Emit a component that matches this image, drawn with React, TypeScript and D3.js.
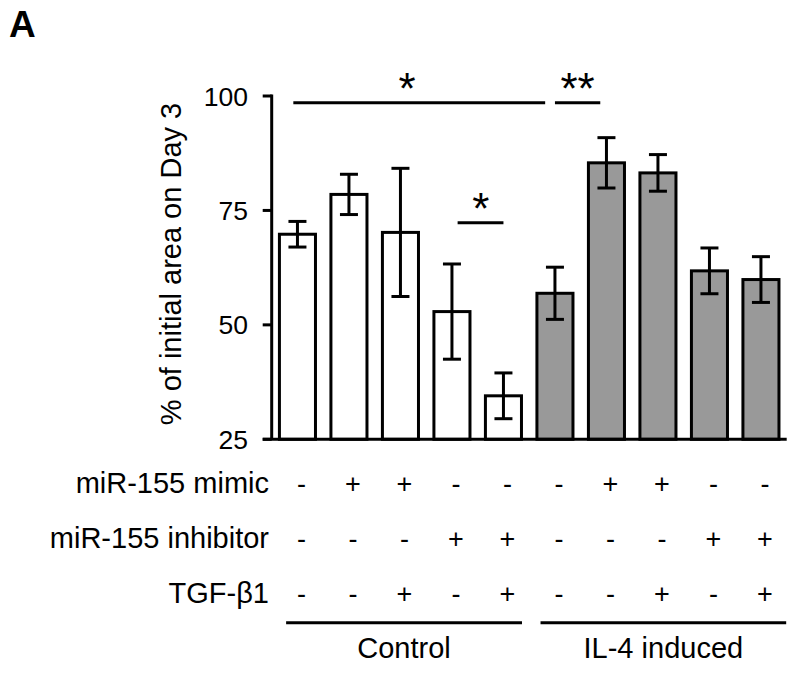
import React from "react";
import * as d3 from "d3";

const conditions = ["C1", "C2", "C3", "C4", "C5", "I1", "I2", "I3", "I4", "I5"];
const values = [69.8, 78.5, 70.2, 52.9, 34.5, 56.9, 85.4, 83.2, 61.8, 59.9];
const errors = [2.8, 4.4, 14.0, 10.4, 5.0, 5.7, 5.5, 4.0, 5.0, 5.0];
const groupOf = ["Control", "Control", "Control", "Control", "Control", "IL-4 induced", "IL-4 induced", "IL-4 induced", "IL-4 induced", "IL-4 induced"];
const yTicks = [25, 50, 75, 100];

const rowLabels = ["miR-155 mimic", "miR-155 inhibitor", "TGF-\u03b21"];
const mimic = ["-", "+", "+", "-", "-", "-", "+", "+", "-", "-"];
const inhibitor = ["-", "-", "-", "+", "+", "-", "-", "-", "+", "+"];
const tgf = ["-", "-", "+", "-", "+", "-", "-", "+", "-", "+"];

const groups = ["Control", "IL-4 induced"];
const groupSpan = [[-0.22, 4.36], [4.72, 9.49]];

const sigLabels = ["*", "**", "*"];
const sigFrom = [-0.08, 5.0, 3.11];
const sigTo = [4.81, 5.88, 4.0];
const sigLabelAt = [2.13, 5.44, 3.56];
const sigLevel = [98.5, 98.5, 72.3];

const FONT = "'Liberation Sans', Arial, Helvetica, sans-serif";

export default function App() {
  const W = 800, H = 674;
  const axisX = 271.7;
  const y = d3.scaleLinear().domain([25, 100]).range([439.3, 96]);
  const x = d3.scaleBand<string>().domain(conditions).range([axisX, 786.7]).paddingInner(0.3).paddingOuter(0.15);
  const bw = x.bandwidth();
  const c0 = (x(conditions[0]) as number) + bw / 2;
  const idx = d3.scaleLinear().domain([0, 1]).range([c0, c0 + x.step()]);
  const markOffset = 4;
  const rowsY = [483, 538, 593];
  const rows = [mimic, inhibitor, tgf];
  const capHalf = 9;
  const labelSize = 29;

  return (
    <svg width={W} height={H} style={{ position: "absolute", left: 0, top: 0, background: "#fff" }} fontFamily={FONT}>
      <rect x={0} y={0} width={W} height={H} fill="#fff" />
      <text x={9} y={37} fontSize={37} fontWeight="bold" fill="#000">A</text>

      {/* y axis */}
      <line x1={axisX} x2={axisX} y1={y(100) - 1.5} y2={y(25)} stroke="#000" strokeWidth={3} />
      {yTicks.map((t) => (
        <g key={t}>
          <line x1={axisX - 9} x2={axisX} y1={y(t)} y2={y(t)} stroke="#000" strokeWidth={3} />
          <text x={248} y={y(t)} dy="0.36em" textAnchor="end" fontSize={26.5} fill="#000">{t}</text>
        </g>
      ))}
      <text transform={`translate(180.5,264) rotate(-90)`} textAnchor="middle" fontSize={labelSize} fill="#000">% of initial area on Day 3</text>

      {/* bars */}
      {conditions.map((c, i) => (
        <rect key={c} x={x(c)} y={y(values[i])} width={bw} height={y(25) - y(values[i])}
          fill={groupOf[i] === "Control" ? "#fff" : "#999999"} stroke="#000" strokeWidth={3} />
      ))}
      {/* baseline */}
      <line x1={axisX - 9} x2={786.7} y1={y(25)} y2={y(25)} stroke="#000" strokeWidth={3} />

      {/* error bars */}
      {conditions.map((c, i) => {
        const cx = (x(c) as number) + bw / 2;
        const hi = y(values[i] + errors[i]);
        const lo = y(values[i] - errors[i]);
        return (
          <g key={c} stroke="#000" strokeWidth={3}>
            <line x1={cx} x2={cx} y1={hi} y2={lo} />
            <line x1={cx - capHalf} x2={cx + capHalf} y1={hi} y2={hi} />
            <line x1={cx - capHalf} x2={cx + capHalf} y1={lo} y2={lo} />
          </g>
        );
      })}

      {/* significance */}
      {sigLabels.map((s, i) => (
        <g key={i}>
          <line x1={idx(sigFrom[i])} x2={idx(sigTo[i])} y1={y(sigLevel[i])} y2={y(sigLevel[i])} stroke="#000" strokeWidth={3} />
          <text x={idx(sigLabelAt[i])} y={y(sigLevel[i]) + 1} textAnchor="middle" fontSize={44} fill="#000">{s}</text>
        </g>
      ))}

      {/* table */}
      {rowLabels.map((r, ri) => (
        <g key={r}>
          <text x={269} y={rowsY[ri]} dy="0.36em" textAnchor="end" fontSize={labelSize} fill="#000">{r}</text>
          {rows[ri].map((m, i) => (
            <text key={i} x={(x(conditions[i]) as number) + bw / 2 + markOffset} y={rowsY[ri]} dy="0.36em"
              textAnchor="middle" fontSize={27} fill="#000">{m}</text>
          ))}
        </g>
      ))}

      {groups.map((g, gi) => {
        const x1 = idx(groupSpan[gi][0]);
        const x2 = idx(groupSpan[gi][1]);
        return (
          <g key={g}>
            <line x1={x1} x2={x2} y1={622.7} y2={622.7} stroke="#000" strokeWidth={3} />
            <text x={(x1 + x2) / 2} y={658} textAnchor="middle" fontSize={labelSize} fill="#000">{g}</text>
          </g>
        );
      })}
    </svg>
  );
}
